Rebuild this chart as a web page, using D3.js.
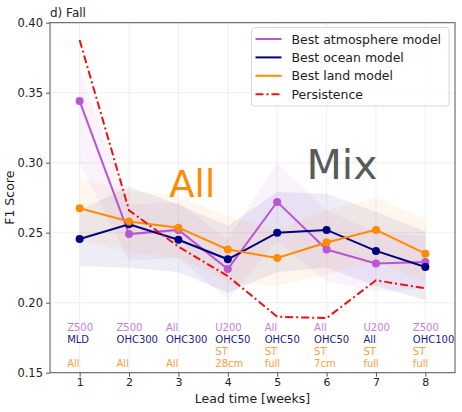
<!DOCTYPE html>
<html>
<head>
<meta charset="utf-8">
<script src="https://cdn.jsdelivr.net/npm/d3@7"></script>
<style>
    body { margin: 0; background: #fff; }
    text { font-family: "DejaVu Sans", sans-serif; }
</style>
</head>
<body>
<svg id="chart" width="462" height="412"></svg>
<script>
// lead times (weeks)
const weeks = [1, 2, 3, 4, 5, 6, 7, 8];

// F1 scores per series
const atmos = [0.344, 0.249, 0.252, 0.224, 0.272, 0.238, 0.228, 0.229];
const ocean = [0.2455, 0.256, 0.245, 0.231, 0.250, 0.252, 0.237, 0.2255];
const land = [0.2674, 0.258, 0.2536, 0.238, 0.232, 0.243, 0.252, 0.235];
const persistence = [0.3876, 0.266, 0.240, 0.219, 0.190, 0.189, 0.216, 0.2103];

// spread bands (low / high)
const atmosLo = [0.300, 0.230, 0.232, 0.202, 0.244, 0.215, 0.208, 0.210];
const atmosHi = [0.366, 0.270, 0.272, 0.245, 0.300, 0.266, 0.250, 0.248];
const oceanLo = [0.226, 0.225, 0.222, 0.207, 0.222, 0.225, 0.212, 0.202];
const oceanHi = [0.266, 0.283, 0.270, 0.255, 0.279, 0.278, 0.265, 0.251];
const landLo = [0.245, 0.236, 0.232, 0.215, 0.212, 0.220, 0.230, 0.215];
const landHi = [0.289, 0.280, 0.276, 0.262, 0.252, 0.266, 0.275, 0.260];

// predictor labels under each lead time
const atmosLabels = ["Z500", "Z500", "All", "U200", "All", "All", "U200", "Z500"];
const oceanLabels = ["MLD", "OHC300", "OHC300", "OHC50", "OHC50", "OHC50", "All", "OHC100"];
const landLabels = [["All"], ["All"], ["All"], ["ST", "28cm"], ["ST", "full"], ["ST", "7cm"], ["ST", "full"], ["ST", "full"]];

const yTicks = [0.15, 0.20, 0.25, 0.30, 0.35, 0.40];
const legendNames = ["Best atmosphere model", "Best ocean model", "Best land model", "Persistence"];

const cAtmos = "#ba55d3", cOcean = "#000080", cLand = "#ff8c00", cPers = "#ee1111";

let svg = d3.select("#chart");
let margin = {left: 50, top: 22.7, right: 7, bottom: 39.3};
let w = 462 - margin.left - margin.right;
let h = 412 - margin.top - margin.bottom;

let x = d3.scaleLinear().domain([0.4, 8.6]).range([0, w]);
let y = d3.scaleLinear().domain([0.15, 0.40]).range([h, 0]);

let g = svg.append("g").attr("transform", "translate(" + margin.left + "," + margin.top + ")");

// grid
g.selectAll(".gx").data(weeks).enter().append("line")
    .attr("x1", d => x(d)).attr("x2", d => x(d))
    .attr("y1", 0).attr("y2", h)
    .attr("stroke", "#ebebeb").attr("stroke-width", 0.8);
g.selectAll(".gy").data(yTicks).enter().append("line")
    .attr("x1", 0).attr("x2", w)
    .attr("y1", d => y(d)).attr("y2", d => y(d))
    .attr("stroke", "#ebebeb").attr("stroke-width", 0.8);

// bands
let bands = [[atmosLo, atmosHi, cAtmos], [oceanLo, oceanHi, cOcean], [landLo, landHi, cLand]];
let area = d3.area().x(d => x(d.w)).y0(d => y(d.lo)).y1(d => y(d.hi));
bands.forEach(function (b) {
    let pts = weeks.map((wk, i) => ({w: wk, lo: b[0][i], hi: b[1][i]}));
    g.append("path").attr("d", area(pts))
        .attr("fill", b[2]).attr("fill-opacity", 0.07);
});

// big annotations
g.append("text").attr("x", x(3.28)).attr("y", y(0.2757))
    .attr("text-anchor", "middle").attr("font-size", 37)
    .attr("fill", cLand).text("All");
g.append("text").attr("x", x(6.31)).attr("y", y(0.2884))
    .attr("text-anchor", "middle").attr("font-size", 41)
    .attr("fill", "#5a5a5a").text("Mix");

// lines
let line = d3.line().x(d => x(d.w)).y(d => y(d.v));
let series = [[atmos, cAtmos], [ocean, cOcean], [land, cLand]];
series.forEach(function (s) {
    let pts = weeks.map((wk, i) => ({w: wk, v: s[0][i]}));
    g.append("path").attr("d", line(pts))
        .attr("fill", "none").attr("stroke", s[1]).attr("stroke-width", 2);
    g.selectAll(null).data(pts).enter().append("circle")
        .attr("cx", d => x(d.w)).attr("cy", d => y(d.v))
        .attr("r", 4).attr("fill", s[1]);
});
g.append("path")
    .attr("d", line(weeks.map((wk, i) => ({w: wk, v: persistence[i]}))))
    .attr("fill", "none").attr("stroke", cPers).attr("stroke-width", 2)
    .attr("stroke-dasharray", "8,3,2,3");

// predictor labels
let labelG = g.append("g").attr("font-size", 10);
weeks.forEach(function (wk, i) {
    let lx = x(wk) - 12.5;
    labelG.append("text").attr("x", lx).attr("y", y(0.1798)).attr("fill", "#c27fd9").text(atmosLabels[i]);
    labelG.append("text").attr("x", lx).attr("y", y(0.1712)).attr("fill", "#1c1c8c").text(oceanLabels[i]);
    let ll = landLabels[i];
    ll.forEach(function (t, j) {
        let row = ll.length - 1 - j;
        labelG.append("text").attr("x", lx).attr("y", y(0.1541) - row * 12)
            .attr("fill", "#f7a040").text(t);
    });
});

// spines
g.append("rect").attr("width", w).attr("height", h)
    .attr("fill", "none").attr("stroke", "#555").attr("stroke-width", 1);

// axes
let xAxis = d3.axisBottom(x).tickValues(weeks).tickSize(4).tickPadding(2);
let yAxis = d3.axisLeft(y).tickValues(yTicks).tickFormat(d3.format(".2f")).tickSize(4).tickPadding(3);
let xa = g.append("g").attr("transform", "translate(0," + h + ")").call(xAxis);
let ya = g.append("g").call(yAxis);
[xa, ya].forEach(function (a) {
    a.select(".domain").remove();
    a.selectAll("line").attr("stroke", "#555");
    a.selectAll("text").attr("font-size", 11.5).attr("fill", "#222")
        .attr("font-family", "DejaVu Sans, sans-serif");
});
xa.selectAll("text").attr("font-size", 11);

// titles
svg.append("text").attr("x", margin.left).attr("y", 17)
    .attr("font-size", 12).attr("fill", "#222").text("d) Fall");
svg.append("text").attr("x", margin.left + w / 2).attr("y", 402.5)
    .attr("text-anchor", "middle").attr("font-size", 12.5).attr("fill", "#222")
    .text("Lead time [weeks]");
svg.append("text")
    .attr("transform", "translate(14," + (margin.top + h / 2) + ") rotate(-90)")
    .attr("text-anchor", "middle").attr("font-size", 12.5).attr("fill", "#222")
    .text("F1 Score");

// legend
let leg = svg.append("g").attr("transform", "translate(251.5,27.5)");
leg.append("rect").attr("width", 197.5).attr("height", 78.5).attr("rx", 3)
    .attr("fill", "#fff").attr("fill-opacity", 0.85)
    .attr("stroke", "#d6d6d6").attr("stroke-width", 1);
let legColors = [cAtmos, cOcean, cLand, cPers];
legendNames.forEach(function (name, i) {
    let ly = 11.5 + i * 18.4;
    leg.append("line").attr("x1", 4).attr("x2", 30).attr("y1", ly).attr("y2", ly)
        .attr("stroke", legColors[i]).attr("stroke-width", 2)
        .attr("stroke-dasharray", i === 3 ? "8,3,2,3" : null);
    leg.append("text").attr("x", 40).attr("y", ly + 4.5)
        .attr("font-size", 12.5).attr("fill", "#222").text(name);
});
</script>
</body>
</html>
